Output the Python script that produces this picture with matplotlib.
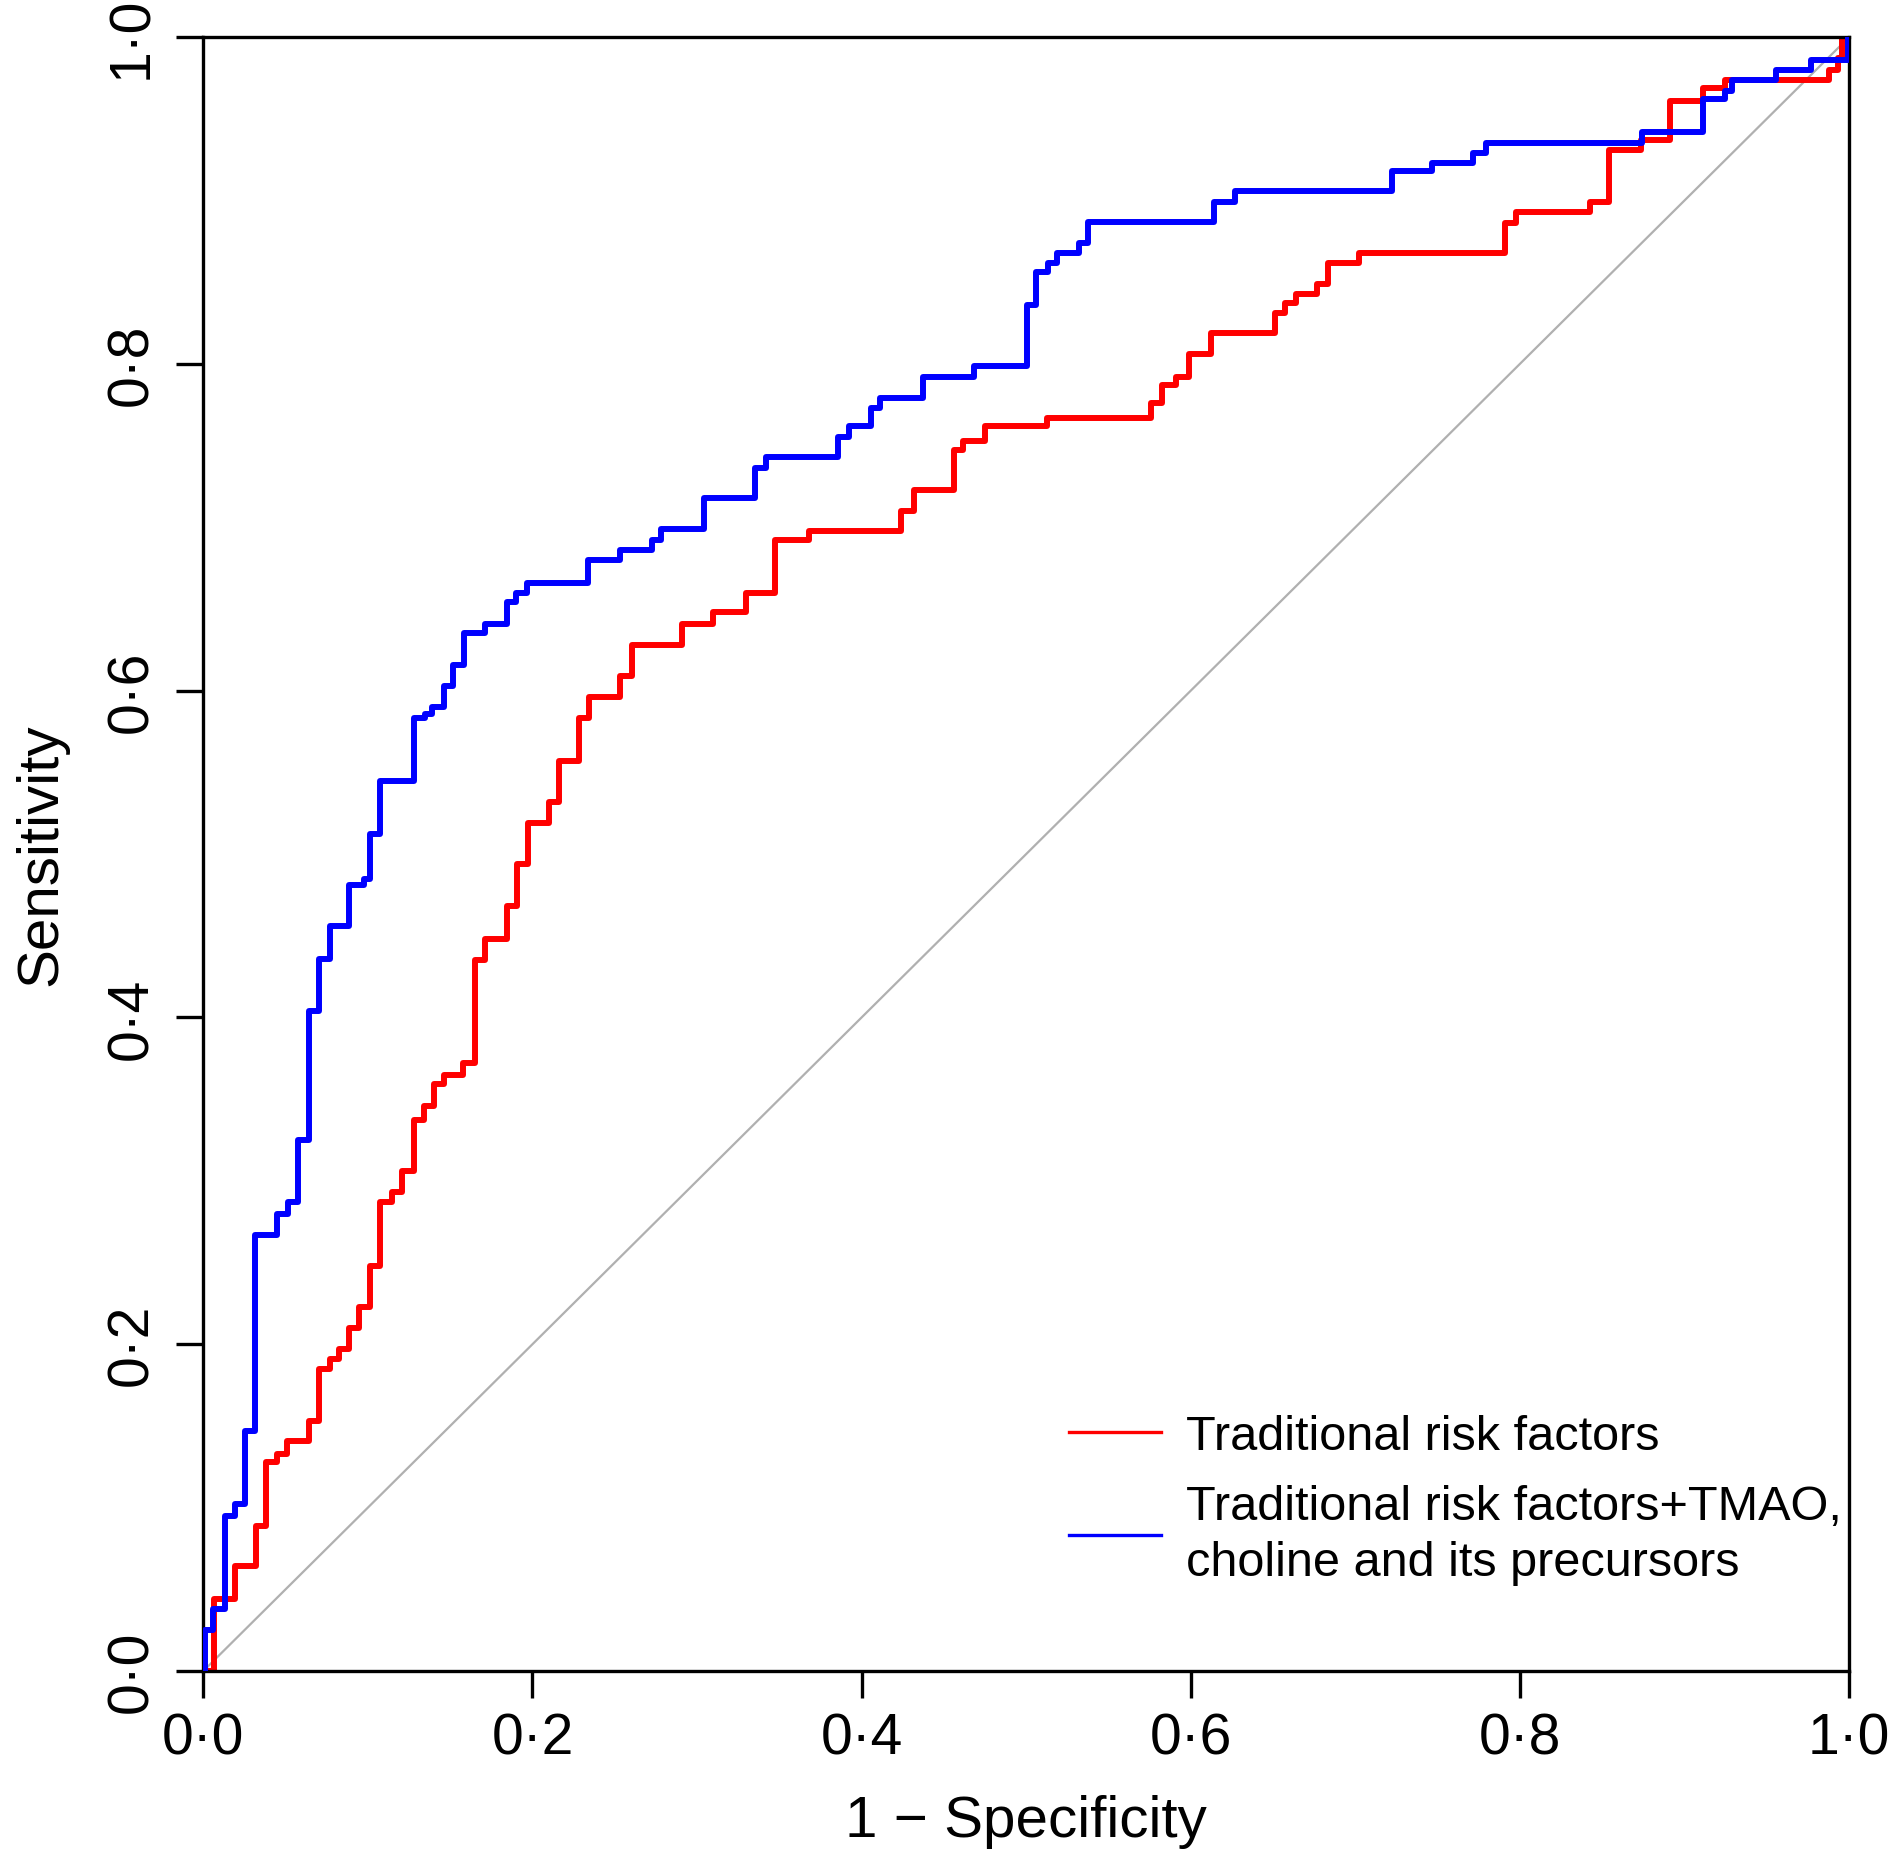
import matplotlib
matplotlib.use("Agg")
import matplotlib.pyplot as plt
from matplotlib.lines import Line2D

plt.rcParams['font.family'] = ['Liberation Sans', 'DejaVu Sans']

# ROC step vertices (1 - specificity, sensitivity)
red_fpr = [0.0, 0.0063, 0.019, 0.032, 0.038, 0.045, 0.051, 0.064, 0.0705, 0.077,
           0.0826, 0.0887, 0.0948, 0.1015, 0.1075, 0.1146, 0.121, 0.128, 0.134, 0.140,
           0.146, 0.158, 0.165, 0.171, 0.1845, 0.1906, 0.1972, 0.2098, 0.2159, 0.228,
           0.2345, 0.2533, 0.2607, 0.2911, 0.3095, 0.3299, 0.3475, 0.3679, 0.424, 0.4316,
           0.456, 0.4614, 0.475, 0.5125, 0.5758, 0.5825, 0.5909, 0.5992, 0.6125, 0.6509,
           0.6575, 0.6642, 0.6769, 0.6831, 0.7025, 0.7908, 0.7975, 0.8424, 0.8541, 0.8734,
           0.8914, 0.9114, 0.9247, 0.9881, 0.9934, 0.9958, 1.0]
red_tpr = [0.0, 0.044, 0.064, 0.089, 0.128, 0.133, 0.141, 0.153, 0.185, 0.191,
           0.197, 0.210, 0.223, 0.248, 0.287, 0.293, 0.306, 0.337, 0.346, 0.359,
           0.365, 0.372, 0.435, 0.448, 0.468, 0.494, 0.519, 0.532, 0.557, 0.583,
           0.596, 0.609, 0.628, 0.641, 0.648, 0.660, 0.692, 0.698, 0.710, 0.723,
           0.747, 0.753, 0.762, 0.767, 0.776, 0.787, 0.792, 0.806, 0.819, 0.831,
           0.837, 0.843, 0.849, 0.862, 0.868, 0.886, 0.893, 0.899, 0.931, 0.937,
           0.961, 0.969, 0.974, 0.980, 0.987, 1.0, 1.0]

blue_fpr = [0.0, 0.001, 0.0057, 0.0134, 0.0194, 0.0255, 0.0316, 0.0448, 0.0514, 0.0575,
            0.064, 0.0701, 0.0772, 0.0887, 0.0974, 0.1015, 0.1075, 0.1278, 0.1349, 0.139,
            0.146, 0.152, 0.1586, 0.1713, 0.1846, 0.19, 0.1968, 0.2338, 0.2532, 0.2729,
            0.2783, 0.3041, 0.3353, 0.3421, 0.3855, 0.3923, 0.4058, 0.4112, 0.437, 0.4682,
            0.5004, 0.506, 0.5132, 0.5188, 0.5323, 0.5375, 0.6142, 0.6269, 0.7225, 0.7468,
            0.7715, 0.7792, 0.8741, 0.9114, 0.9248, 0.9291, 0.9558, 0.9767, 0.9991, 1.0]
blue_tpr = [0.0, 0.025, 0.038, 0.095, 0.102, 0.147, 0.267, 0.280, 0.287, 0.325,
            0.404, 0.436, 0.456, 0.481, 0.485, 0.512, 0.545, 0.583, 0.586, 0.590,
            0.603, 0.616, 0.635, 0.641, 0.654, 0.660, 0.666, 0.680, 0.686, 0.692,
            0.699, 0.718, 0.736, 0.743, 0.755, 0.762, 0.773, 0.779, 0.792, 0.799,
            0.836, 0.856, 0.862, 0.868, 0.874, 0.887, 0.899, 0.906, 0.918, 0.923,
            0.929, 0.935, 0.942, 0.962, 0.967, 0.974, 0.980, 0.986, 1.0, 1.0]

ticks = [0.0, 0.2, 0.4, 0.6, 0.8, 1.0]
tick_labels = ["0·0", "0·2", "0·4", "0·6", "0·8", "1·0"]
labels = ["Traditional risk factors",
          "Traditional risk factors+TMAO,\ncholine and its precursors"]

fig = plt.figure(figsize=(19, 18.58), dpi=100)
ax = fig.add_axes([0.107, 0.1001, 0.8662, 0.8794])

ax.plot([0, 1], [0, 1], color="#b0b0b0", lw=1.6, zorder=1)
ax.plot(red_fpr, red_tpr, drawstyle="steps-post", color="#ff0000", lw=4.3, zorder=2)
ax.plot(blue_fpr, blue_tpr, drawstyle="steps-post", color="#0000ff", lw=4.3, zorder=3)

ax.set_xlim(0, 1)
ax.set_ylim(0, 1)
ax.set_xticks(ticks)
ax.set_xticklabels(tick_labels)
ax.set_yticks(ticks)
ax.set_yticklabels(tick_labels, rotation=90, va="center")
ax.tick_params(axis="both", direction="out", length=19.5, width=2.4, labelsize=41)
ax.tick_params(axis="x", pad=10)
ax.tick_params(axis="y", pad=12)
for s in ax.spines.values():
    s.set_linewidth(2.4)

ax.set_xlabel("1 − Specificity", fontsize=42, labelpad=20)
ax.set_ylabel("Sensitivity", fontsize=42, labelpad=27)

handles = [Line2D([], [], color="#ff0000", lw=2.4),
           Line2D([], [], color="#0000ff", lw=2.4)]
leg = ax.legend(handles, labels, loc="upper left", bbox_to_anchor=(0.526, 0.157),
                frameon=False, fontsize=35, borderpad=0, borderaxespad=0,
                handlelength=1.9, handletextpad=0.5, labelspacing=0.5)
for t in leg.get_texts():
    t.set_linespacing(1.33)

fig.savefig("out.png", dpi=100, facecolor="white")
